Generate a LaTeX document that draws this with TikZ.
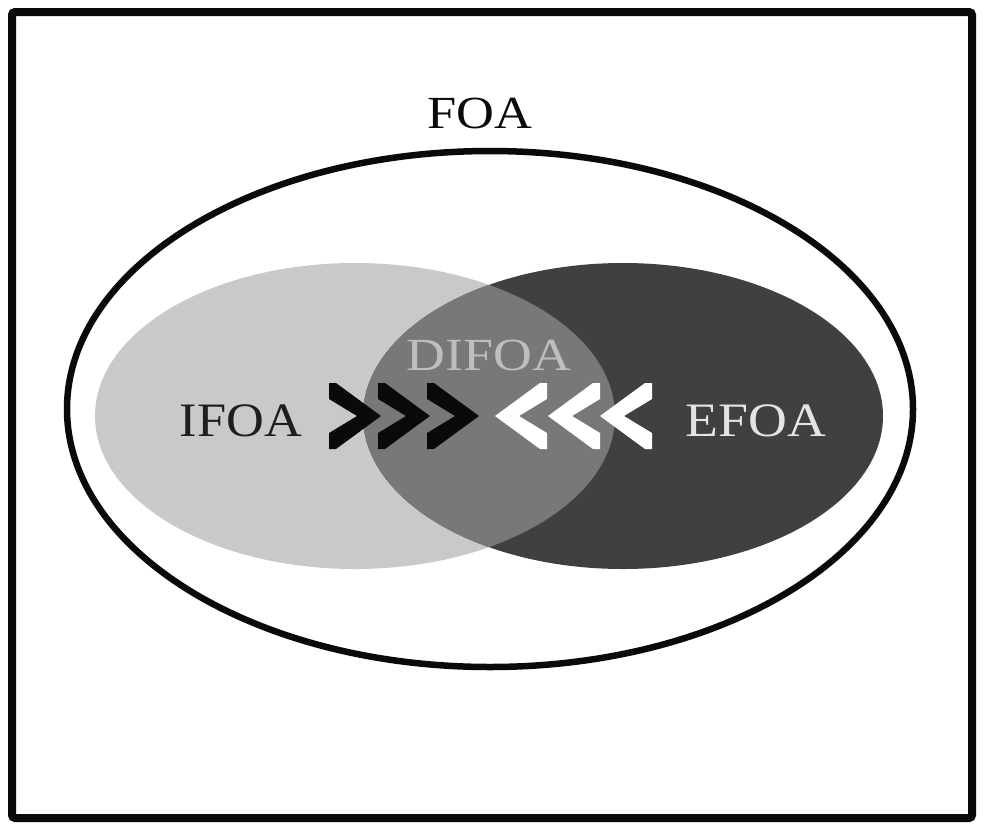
\documentclass[tikz,border=0pt]{standalone}
\usepackage{fontspec}
\setmainfont{Liberation Serif}
\usepackage{graphicx}
\definecolor{lightfill}{HTML}{C9C9C9}
\definecolor{darkfill}{HTML}{404040}
\definecolor{midfill}{HTML}{787878}
\definecolor{difoatext}{HTML}{BEBEBE}
\definecolor{efoatext}{HTML}{E4E4E4}
\definecolor{ifoatext}{HTML}{1E1E1E}
\definecolor{inkblack}{HTML}{0A0A0A}
\begin{document}
\begin{tikzpicture}[x=1pt,y=-1pt,
  lblbig/.style={font=\fontsize{48}{52}\selectfont, inner sep=0pt, anchor=base},
  lblmid/.style={font=\fontsize{46}{50}\selectfont, inner sep=0pt, anchor=base},
  chevron/.pic={\fill (0,-33) -- (7,-33) -- (52,0) -- (7,33) -- (0,33) -- (0,17) -- (28,0) -- (0,-17) -- cycle;}]
\useasboundingbox (0,0) rectangle (987,833);
% frame
\draw[line width=8pt, rounded corners=3pt, inkblack] (12,12) rectangle (972,818);
% outer ellipse
\draw[line width=6.5pt, inkblack] (490,409) ellipse [x radius=423pt, y radius=258pt];
% inner ellipses
\fill[lightfill] (355,416) ellipse [x radius=260pt, y radius=153pt];
\fill[darkfill] (623,416) ellipse [x radius=260pt, y radius=153pt];
\begin{scope}
  \clip (355,416) ellipse [x radius=260pt, y radius=153pt];
  \fill[midfill] (623,416) ellipse [x radius=260pt, y radius=153pt];
\end{scope}
% labels
\node[lblmid, inkblack] (foa) at (480,128) {\scalebox{1.14}[1]{FOA}};
\node[lblbig, ifoatext] (ifoa) at (241,436) {\scalebox{1.09}[1]{IFOA}};
\node[lblbig, efoatext] (efoa) at (756,436) {\scalebox{1.12}[1]{EFOA}};
\node[lblmid, difoatext] (difoa) at (489,370) {\scalebox{1.17}[1]{DIFOA}};
% chevrons
\pic[inkblack] at (329,416) {chevron};
\pic[inkblack] at (378,416) {chevron};
\pic[inkblack] at (427,416) {chevron};
\pic[white, xscale=-1] at (547,416) {chevron};
\pic[white, xscale=-1] at (600,416) {chevron};
\pic[white, xscale=-1] at (652,416) {chevron};
\end{tikzpicture}
\end{document}
